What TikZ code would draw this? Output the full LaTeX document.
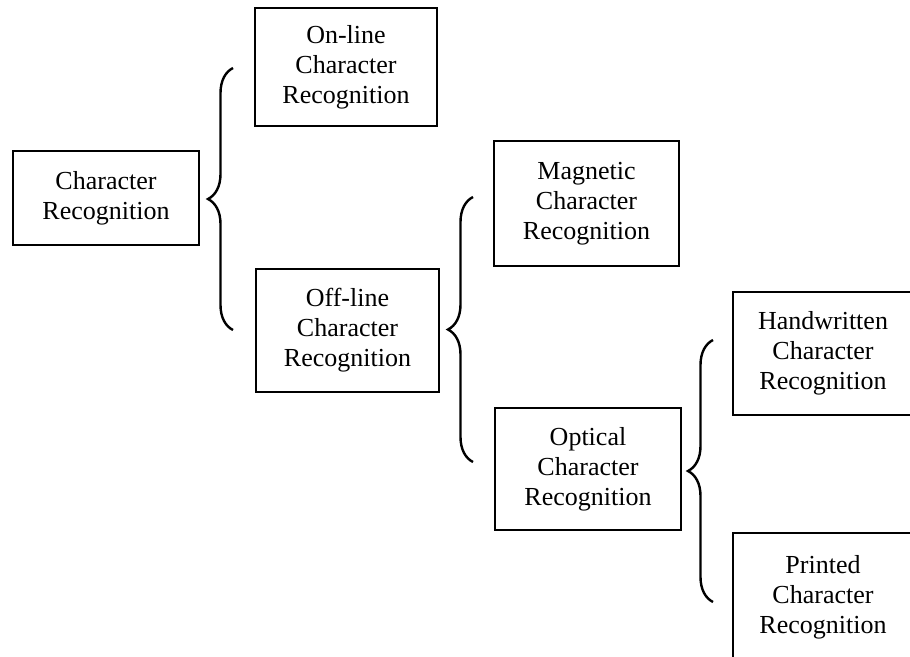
\documentclass[tikz,border=0pt]{standalone}
\usepackage{fontspec}
\setmainfont{Liberation Serif}
\usetikzlibrary{decorations.pathreplacing}
\begin{document}
\begin{tikzpicture}[x=1pt,y=-1pt,
  box/.style={draw=black, line width=1.8pt, rectangle, align=center,
    inner sep=0pt, font=\fontsize{26}{30}\selectfont},
  curly/.style={draw=black, line width=2.4pt,
    decorate, decoration={brace, amplitude=25pt}}]
\useasboundingbox (0,0) rectangle (910,656);
\clip (0,0) rectangle (910,656);
\fill[white] (0,0) rectangle (910,656);

\node[box, minimum width=186pt, minimum height=94pt] (cr) at (106,198) {Character\\Recognition};
\node[box, minimum width=182pt, minimum height=118pt] (on) at (346,67) {On-line\\Character\\Recognition};
\node[box, minimum width=183pt, minimum height=123pt] (off) at (347.5,330.5) {Off-line\\Character\\Recognition};
\node[box, minimum width=185pt, minimum height=125pt] (mag) at (586.5,203.5) {Magnetic\\Character\\Recognition};
\node[box, minimum width=186pt, minimum height=122pt] (opt) at (588,469) {Optical\\Character\\Recognition};
\node[box, minimum width=180pt, minimum height=123pt] (hw) at (823,353.5) {Handwritten\\Character\\Recognition};
\node[box, minimum width=180pt, minimum height=128pt] (pr) at (823,597) {Printed\\Character\\Recognition};

\coordinate (b1top) at (233,68);
\coordinate (b1bot) at (233,330);
\coordinate (b2top) at (473,197);
\coordinate (b2bot) at (473,462);
\coordinate (b3top) at (713,340);
\coordinate (b3bot) at (713,602);

\draw[curly] (b1bot) -- (b1top);
\draw[curly] (b2bot) -- (b2top);
\draw[curly] (b3bot) -- (b3top);
\end{tikzpicture}
\end{document}
